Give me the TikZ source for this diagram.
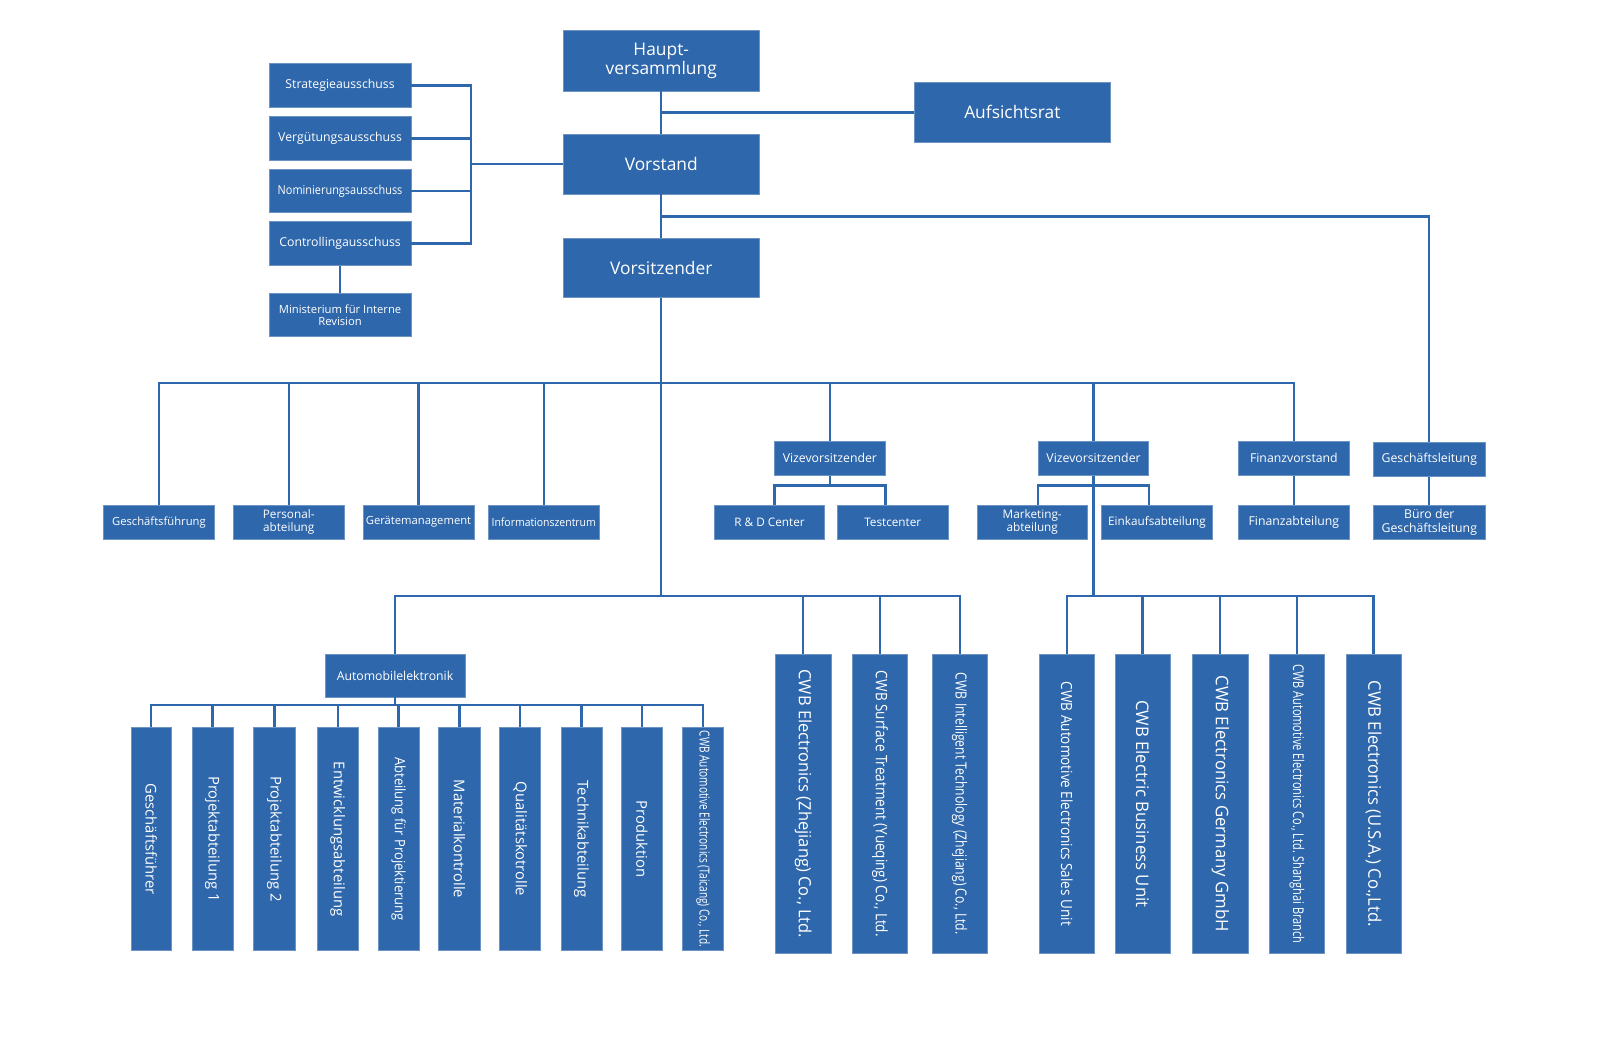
\documentclass[tikz,border=0pt]{standalone}
\usepackage{fontspec}
\setmainfont{Open Sans}
\usepackage{graphicx}
\definecolor{boxblue}{HTML}{2E67AB}
\definecolor{lineblue}{HTML}{2E67AB}
\newcommand\fs[1]{\fontsize{#1}{#1}\selectfont}
\newcommand\fsl[2]{\fontsize{#1}{#2}\selectfont}
\newcommand\fitw[2]{\resizebox{#1pt}{\height}{#2}}
\tikzset{
  box/.style={fill=boxblue, draw=boxblue!70!white, line width=0.6pt, text=white, inner sep=0pt, align=center},
  conn/.style={draw=lineblue, line width=2.3pt},
}
% horizontal-text box: [opts]{name}{x1}{y1}{x2}{y2}{text}
\newcommand\bx[7][]{\node[box,minimum width={(#5-#3)*1pt},minimum height={(#6-#4)*1pt},#1] (#2) at ({(#3+#5)/2},{(#4+#6)/2}) {#7};}
% vertical-text box, natural length: {name}{x1}{y1}{x2}{y2}{fontsize}{text}
\newcommand\vbx[7]{\node[box,minimum width={(#4-#2)*1pt},minimum height={(#5-#3)*1pt},font=\fs{#6}] (#1) at ({(#2+#4)/2},{(#3+#5)/2}) {\rotatebox{-90}{#7}};}
% vertical-text box, fitted length: {name}{x1}{y1}{x2}{y2}{fontsize}{length}{text}
\newcommand\vbxf[8]{\node[box,minimum width={(#4-#2)*1pt},minimum height={(#5-#3)*1pt},font=\fs{#6}] (#1) at ({(#2+#4)/2},{(#3+#5)/2}) {\rotatebox{-90}{\fitw{#7}{#8}}};}
\begin{document}
\begin{tikzpicture}[x=1pt,y=-1pt]
\fill[white] (0,0) rectangle (1567.5,1022.5);
\useasboundingbox (0,0) rectangle (1567.5,1022.5);

% top
\bx[font=\fsl{17}{18}]{hv}{551}{30}{743}{89}{Haupt-\\versammlung}
\bx[font=\fs{17}]{auf}{895}{81}{1086}{139}{Aufsichtsrat}
\bx[font=\fs{17}]{vst}{551}{131}{743}{190}{Vorstand}
\bx[font=\fs{17}]{vors}{551}{233}{743}{291}{Vorsitzender}

% committees
\bx[font=\fs{12}]{str}{263.5}{62}{402}{105}{Strategieausschuss}
\bx[font=\fs{12}]{verg}{263.5}{114}{402}{157}{Vergütungsausschuss}
\bx[font=\fs{12}]{nom}{263.5}{166}{402}{208}{\fitw{122}{Nominierungsausschuss}}
\bx[font=\fs{12}]{ctl}{263.5}{217}{402}{259.5}{Controllingausschuss}
\bx[font=\fsl{11}{12}]{min}{263.5}{287}{402}{329.5}{Ministerium für Interne\\Revision}

% level 2
\bx[font=\fs{11}]{gf}{101}{494}{210}{528}{Geschäftsführung}
\bx[font=\fsl{11.5}{12.5}]{pa}{228}{494}{337}{528}{Personal-\\abteilung}
\bx[font=\fs{11}]{ger}{355}{494}{464}{528}{Gerätemanagement}
\bx[font=\fs{11}]{inf}{478}{494}{586}{528}{\fitw{102}{Informationszentrum}}
\bx[font=\fs{12}]{vz1}{758}{432}{866}{465}{Vizevorsitzender}
\bx[font=\fs{11.5}]{rd}{699}{494}{807}{528}{R \& D Center}
\bx[font=\fs{11.5}]{tc}{819}{494}{928}{528}{Testcenter}
\bx[font=\fs{12}]{vz2}{1016}{432}{1124}{465}{Vizevorsitzender}
\bx[font=\fsl{11.5}{12.5}]{mk}{956}{494}{1064}{528}{Marketing-\\abteilung}
\bx[font=\fs{11.5}]{ek}{1078}{494}{1186}{528}{Einkaufsabteilung}
\bx[font=\fs{12}]{fv}{1212}{432}{1320}{465}{Finanzvorstand}
\bx[font=\fs{12}]{fa}{1212}{494}{1320}{528}{Finanzabteilung}
\bx[font=\fs{12}]{gl}{1344}{433}{1453}{466}{Geschäftsleitung}
\bx[font=\fsl{12}{13}]{bgl}{1344}{494}{1453}{528}{Büro der\\Geschäftsleitung}

% level 3
\bx[font=\fs{12}]{ae}{318}{640}{455}{682}{Automobilelektronik}
\vbx{l1}{128}{712}{168}{930}{14.5}{Geschäftsführer}
\vbx{l2}{188}{712}{228}{930}{14.5}{Projektabteilung 1}
\vbx{l3}{248}{712}{289}{930}{14.5}{Projektabteilung 2}
\vbx{l4}{310}{712}{351}{930}{14.5}{Entwicklungsabteilung}
\vbxf{l5}{370}{712}{410}{930}{14}{160}{Abteilung für Projektierung}
\vbx{l6}{429}{712}{470}{930}{14.5}{Materialkontrolle}
\vbx{l7}{489}{712}{529}{930}{14.5}{Qualitätskotrolle}
\vbx{l8}{549}{712}{589}{930}{14.5}{Technikabteilung}
\vbx{l9}{608}{712}{648}{930}{14.5}{Produktion}
\vbxf{l10}{668}{712}{708}{930}{13.5}{212}{CWB Automotive Electronics (Taicang) Co., Ltd.}

\vbxf{c1}{759}{640}{813}{933}{16.5}{263}{CWB Electronics (Zhejiang) Co., Ltd.}
\vbxf{c2}{834}{640}{888}{933}{15.5}{260}{CWB Surface Treatment (Yueqing) Co., Ltd.}
\vbxf{c3}{912}{640}{966}{933}{15}{256}{CWB Intelligent Technology (Zhejiang) Co., Ltd.}

\vbxf{r1}{1017}{640}{1071}{933}{15}{239}{CWB Automotive Electronics Sales Unit}
\vbxf{r2}{1091}{640}{1145}{933}{17}{203}{CWB Electric Business Unit}
\vbxf{r3}{1167}{640}{1221}{933}{17}{251}{CWB Electronics Germany GmbH}
\vbxf{r4}{1242}{640}{1296}{933}{14.5}{273}{CWB Automotive Electronics Co., Ltd. Shanghai Branch}
\vbxf{r5}{1317}{640}{1371}{933}{17}{241}{CWB Electronics (U.S.A.) Co.,Ltd.}

% connectors
\draw[conn] (hv.south) -- (vst.north);
\draw[conn] (auf.west) -- (auf.west -| hv.south);
\draw[conn] (vst.south) -- (vors.north);
\coordinate (jgl) at (647,212);
\draw[conn] (jgl) -| (gl.north);

\coordinate (br) at (461,160.5);
\draw[conn] (vst.west) -- (br);
\draw[conn] (str.east) -| (br |- ctl.east) -- (ctl.east);
\draw[conn] (verg.east) -- (verg.east -| br);
\draw[conn] (nom.east) -- (nom.east -| br);
\draw[conn] (ctl.south) -- (min.north);

\coordinate (b2) at (647,375);
\coordinate (b3) at (647,583);
\draw[conn] (vors.south) -- (b3);
\draw[conn] (gf.north) |- (b2 -| fv.north) -- (fv.north);
\foreach \n in {pa,ger,inf,vz1,vz2} \draw[conn] (\n.north) -- (\n.north |- b2);

\coordinate (j1) at (812,475);
\draw[conn] (vz1.south) -- (j1);
\draw[conn] (vz1.west |- rd.north) |- (j1 -| vz1.east) -- (vz1.east |- tc.north);

\coordinate (j2) at (1070,475);
\coordinate (b4) at (1070,583);
\draw[conn] (vz2.south) -- (b4);
\draw[conn] (vz2.west |- mk.north) |- (j2 -| vz2.east) -- (vz2.east |- ek.north);

\draw[conn] (fv.south) -- (fa.north);
\draw[conn] (gl.south) -- (bgl.north);

\draw[conn] (ae.north) |- (b3 -| c3.north) -- (c3.north);
\foreach \n in {c1,c2} \draw[conn] (\n.north) -- (\n.north |- b3);

\draw[conn] (r1.north) |- (b4 -| r5.north) -- (r5.north);
\foreach \n in {r2,r3,r4} \draw[conn] (\n.north) -- (\n.north |- b4);

\coordinate (b5) at (386.5,690);
\draw[conn] (ae.south) -- (b5);
\draw[conn] (l1.north) |- (b5 -| l10.north) -- (l10.north);
\foreach \n in {l2,l3,l4,l5,l6,l7,l8,l9} \draw[conn] (\n.north) -- (\n.north |- b5);
\end{tikzpicture}
\end{document}
